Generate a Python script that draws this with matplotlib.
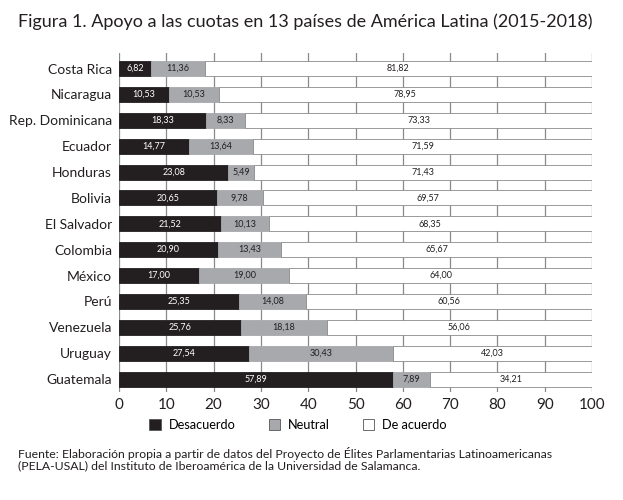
import matplotlib
matplotlib.use("Agg")
import matplotlib.pyplot as plt
import numpy as np

plt.rcParams['font.family'] = ['Lato', 'DejaVu Sans']

countries = ["Costa Rica", "Nicaragua", "Rep. Dominicana", "Ecuador", "Honduras",
             "Bolivia", "El Salvador", "Colombia", "México", "Perú", "Venezuela",
             "Uruguay", "Guatemala"]
desacuerdo = [6.82, 10.53, 18.33, 14.77, 23.08, 20.65, 21.52, 20.90, 17.00, 25.35, 25.76, 27.54, 57.89]
neutral = [11.36, 10.53, 8.33, 13.64, 5.49, 9.78, 10.13, 13.43, 19.00, 14.08, 18.18, 30.43, 7.89]
de_acuerdo = [81.82, 78.95, 73.33, 71.59, 71.43, 69.57, 68.35, 65.67, 64.00, 60.56, 56.06, 42.03, 34.21]
series_names = ["Desacuerdo", "Neutral", "De acuerdo"]
xticks = [0, 10, 20, 30, 40, 50, 60, 70, 80, 90, 100]

title = "Figura 1. Apoyo a las cuotas en 13 países de América Latina (2015-2018)"
source = ("Fuente: Elaboración propia a partir de datos del Proyecto de Élites Parlamentarias Latinoamericanas\n"
          "(PELA-USAL) del Instituto de Iberoamérica de la Universidad de Salamanca.")

fig = plt.figure(figsize=(6.23, 5.0), dpi=100)
ax = fig.add_axes([119/623, 1-392/500, (592-119)/623, (392-53)/500])

y = np.arange(len(countries))
colors = ["#231f20", "#a7a9ac", "#ffffff"]
txtcolors = ["white", "#231f20", "#231f20"]
h = 0.58
left = np.zeros(len(countries))
for vals, c, tc, name in zip([desacuerdo, neutral, de_acuerdo], colors, txtcolors, series_names):
    vals = np.array(vals)
    ax.barh(y, vals, left=left, height=h, color=c, edgecolor="#8a8a8a" if c == "#ffffff" else c,
            linewidth=0.6, label=name, zorder=3)
    for xi, yi, v in zip(left + vals / 2, y, vals):
        ax.text(xi, yi, f"{v:.2f}".replace(".", ","), ha="center", va="center",
                fontsize=6.5, color=tc, zorder=4)
    left = left + vals

ax.set_xlim(0, 100)
ax.set_ylim(len(countries) - 0.5, -0.6)
ax.set_yticks(y)
ax.set_yticklabels(countries, fontsize=10, color="#231f20")
ax.set_xticks(xticks)
ax.set_xticklabels([str(t) for t in xticks], fontsize=11, color="#231f20")
ax.tick_params(axis="both", length=0, pad=4)
ax.tick_params(axis="y", pad=5)
for s in ax.spines.values():
    s.set_visible(False)
ax.xaxis.grid(True, color="#8a8a8a", linewidth=0.9, zorder=0)
ax.set_axisbelow(True)

leg = fig.legend(loc="center", bbox_to_anchor=(298/623, 1-425/500), ncol=3, frameon=False,
                 fontsize=9.2, handlelength=0.9, handleheight=0.9, columnspacing=2.6, handletextpad=0.6)
for p in leg.get_patches():
    p.set_edgecolor("#555555")
    p.set_linewidth(0.6)

fig.text(18/623, 1-22/500, title, fontsize=13.0, color="#231f20", va="center", ha="left")
fig.text(18/623, 1-459/500, source, fontsize=8.8, color="#231f20", va="center", ha="left",
         linespacing=1.0)

fig.savefig("out.png", dpi=100)
